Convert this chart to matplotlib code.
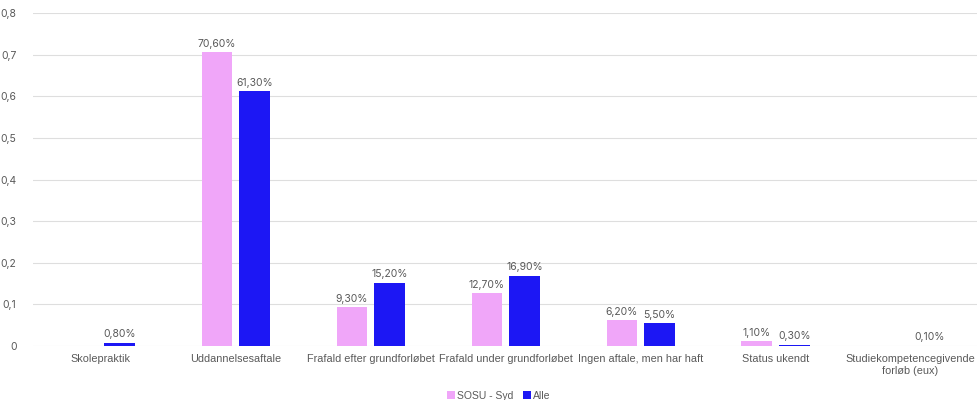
import matplotlib.pyplot as plt
import numpy as np

categories = ['Skolepraktik', 'Uddannelsesaftale', 'Frafald efter grundforløbet',
              'Frafald under grundforløbet', 'Ingen aftale, men har haft',
              'Status ukendt', 'Studiekompetencegivende\nforløb (eux)']
sosu_syd = [np.nan, 0.706, 0.093, 0.127, 0.062, 0.011, np.nan]
alle = [0.008, 0.613, 0.152, 0.169, 0.055, 0.003, 0.001]
series_names = ['SOSU - Syd', 'Alle']
colors = ['#F0A6F9', '#1C17F4']

plt.rcParams['font.family'] = ['Liberation Sans', 'DejaVu Sans']
text_color = '#595959'

fig = plt.figure(figsize=(9.78, 4.0), dpi=100)
ax = fig.add_axes([0.034, 0.135, 0.966, 0.8325])

x = np.arange(len(categories))
w = 0.225
off = 0.14
for vals, name, col, sgn in zip([sosu_syd, alle], series_names, colors, [-1, 1]):
    bars = ax.bar(x + sgn * off, vals, width=w, color=col, label=name, zorder=3)
    for xi, v in zip(x, vals):
        if np.isnan(v):
            continue
        ax.text(xi + sgn * off, v + 0.008, f'{v * 100:.2f}%'.replace('.', ','),
                ha='center', va='bottom', fontsize=7.5, color=text_color,
                family=['Inter', 'DejaVu Sans'])

ax.set_xlim(-0.5, len(categories) - 0.5)
ax.set_ylim(0, 0.8)
ax.set_yticks(np.arange(0, 0.81, 0.1))
ax.set_yticklabels(['0'] + [f'{t:.1f}'.replace('.', ',') for t in np.arange(0.1, 0.81, 0.1)],
                   fontsize=7.5, color=text_color, family=['Inter', 'DejaVu Sans'])
ax.set_xticks(x)
ax.set_xticklabels(categories, fontsize=7.8, color=text_color)
ax.tick_params(length=0, pad=6)
ax.tick_params(axis='y', pad=12)
ax.grid(axis='y', color='#dedede', linewidth=0.8, zorder=0)
for s in ax.spines.values():
    s.set_visible(False)

fig.legend(loc='lower center', bbox_to_anchor=(0.51, -0.025), ncol=2, frameon=False,
           fontsize=7.5, handlelength=0.7, handleheight=0.7, handletextpad=0.2,
           columnspacing=1.0, labelcolor=text_color)

fig.savefig('out.png', dpi=100)
